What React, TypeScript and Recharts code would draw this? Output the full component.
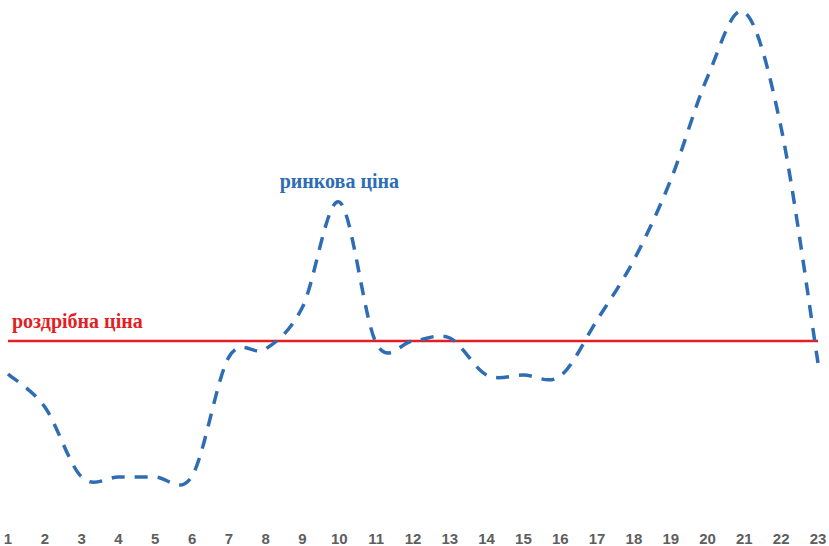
import React from 'react';
import { LineChart, Line, XAxis, YAxis, ReferenceLine, LabelList } from 'recharts';

const periods = ['1','2','3','4','5','6','7','8','9','10','11','12','13','14','15','16','17','18','19','20','21','22','23'];
const marketPrice = [126, 93, 23, 23, 23, 24, 143, 151, 193, 298, 157, 159, 162, 125, 125, 124, 180, 240, 320, 423, 488, 372, 137];
const retailPrice = 159;
const marketLabel = 'ринкова ціна';
const retailLabel = 'роздрібна ціна';
const marketLabelIndex = 9;

const data = periods.map((p, i) => ({ period: p, market: marketPrice[i] }));

// Excel-like smoothed line (Catmull-Rom style bezier)
function smoothCurve(context: any) {
  let pts: number[][] = [];
  return {
    areaStart() {},
    areaEnd() {},
    lineStart() { pts = []; },
    point(x: number, y: number) { pts.push([+x, +y]); },
    lineEnd() {
      if (!pts.length) return;
      context.moveTo(pts[0][0], pts[0][1]);
      for (let i = 0; i < pts.length - 1; i++) {
        const p0 = pts[i - 1] || pts[i];
        const p1 = pts[i];
        const p2 = pts[i + 1];
        const p3 = pts[i + 2] || pts[i + 1];
        const c1x = p1[0] + (p2[0] - p0[0]) / 6;
        const c1y = p1[1] + (p2[1] - p0[1]) / 6;
        const c2x = p2[0] - (p3[0] - p1[0]) / 6;
        const c2y = p2[1] - (p3[1] - p1[1]) / 6;
        context.bezierCurveTo(c1x, c1y, c2x, c2y, p2[0], p2[1]);
      }
    },
  };
}

const Tick = (props: any) => {
  const { x, payload } = props;
  return (
    <text x={x} y={538} textAnchor="middle" dominantBaseline="central"
      fontFamily="Liberation Sans, Arial, sans-serif" fontWeight="bold" fontSize={15} fill="#5e5e5e">
      {payload.value}
    </text>
  );
};

const MarketLabel = (props: any) => {
  const { x, y, index } = props;
  if (index !== marketLabelIndex) return null;
  return (
    <text x={x} y={y - 14} textAnchor="middle"
      fontFamily="Liberation Serif, Times New Roman, serif" fontWeight="bold" fontSize={20} fill="#2E6DB4">
      {marketLabel}
    </text>
  );
};

const RetailLabel = (props: any) => {
  const { viewBox } = props;
  return (
    <text x={viewBox.x + 4} y={viewBox.y - 13}
      fontFamily="Liberation Serif, Times New Roman, serif" fontWeight="bold" fontSize={20} fill="#E31E24">
      {retailLabel}
    </text>
  );
};

export default function App() {
  return (
    <div style={{ position: 'absolute', left: 0, top: 0, width: 829, height: 546, background: '#fff' }}>
      <LineChart width={829} height={546} data={data} margin={{ top: 0, right: 11, left: 8, bottom: 0 }}>
        <XAxis dataKey="period" axisLine={false} tickLine={false} height={46} interval={0} tick={<Tick />} />
        <YAxis hide domain={[0, 500]} />
        <ReferenceLine y={retailPrice} stroke="#E31E24" strokeWidth={2.5} label={<RetailLabel />} ifOverflow="extendDomain" />
        <Line dataKey="market" type={smoothCurve as any} stroke="#2E6DB4" strokeWidth={3.5}
          strokeDasharray="13 10" dot={false} activeDot={false} isAnimationActive={false}>
          <LabelList dataKey="market" content={<MarketLabel />} />
        </Line>
      </LineChart>
    </div>
  );
}
